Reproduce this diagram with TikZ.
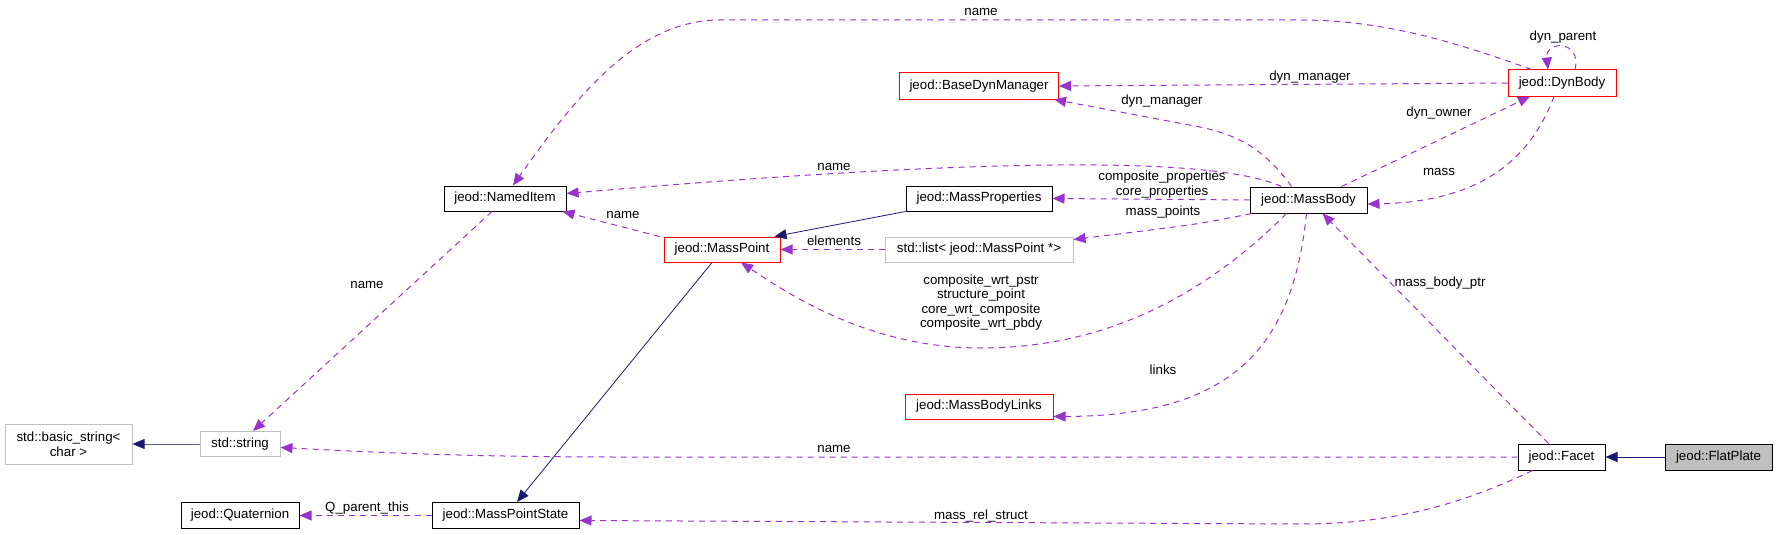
\documentclass[tikz,border=0pt]{standalone}
\usepackage{fontspec}
\setmainfont{Liberation Sans}
\usetikzlibrary{arrows.meta}
\definecolor{relcol}{HTML}{9A32CD}
\definecolor{inhcol}{HTML}{191970}
\definecolor{grey75}{HTML}{BFBFBF}
\begin{document}
\begin{tikzpicture}[x=1pt,y=-1pt,
  cls/.style={draw=black,line width=1pt,minimum height=26pt,inner sep=0pt,font=\fontsize{13.3}{14.6}\selectfont,align=center},
  redcls/.style={cls,draw=red},
  extcls/.style={cls,draw=grey75},
  curcls/.style={cls,fill=grey75},
  lbl/.style={inner sep=0pt,font=\fontsize{13.3}{14.6}\selectfont,align=center},
  use/.style={color=relcol,line width=1pt,dash pattern=on 6pt off 5pt,-{Triangle[length=12pt,width=10pt]}},
  inh/.style={color=inhcol,line width=1pt,-{Triangle[length=12pt,width=10pt]}}]
\useasboundingbox (0,0) rectangle (1777,535);
\node[curcls,minimum width=107pt] (flatplate) at (1718.5,457) {jeod::FlatPlate};
\node[cls,minimum width=87pt] (facet) at (1561.5,457) {jeod::Facet};
\node[cls,minimum width=117pt] (massbody) at (1308.5,200) {jeod::MassBody};
\node[redcls,minimum width=108pt] (dynbody) at (1562,83) {jeod::DynBody};
\node[redcls,minimum width=159pt] (basedyn) at (979,86) {jeod::BaseDynManager};
\node[cls,minimum width=146pt,minimum height=25pt] (massprop) at (979,198.5) {jeod::MassProperties};
\node[redcls,minimum width=116pt,minimum height=25pt] (masspoint) at (722,249.5) {jeod::MassPoint};
\node[extcls,minimum width=188pt,minimum height=25pt] (stdlist) at (979,249.5) {std::list< jeod::MassPoint *>};
\node[redcls,minimum width=148pt,minimum height=25pt] (mblinks) at (979,406.5) {jeod::MassBodyLinks};
\node[cls,minimum width=122pt,minimum height=25pt] (nameditem) at (505,198.5) {jeod::NamedItem};
\node[extcls,minimum width=80pt,minimum height=25pt] (stdstring) at (240,444) {std::string};
\node[extcls,minimum width=127pt,minimum height=40pt] (basicstr) at (68.5,444) {std::basic\_string<\\char >};
\node[cls,minimum width=118pt] (quat) at (240,515.5) {jeod::Quaternion};
\node[cls,minimum width=147pt] (mps) at (505.5,515.5) {jeod::MassPointState};

\draw[inh] (flatplate) -- (facet);
\draw[inh,line width=0.8pt] (massprop.south west) -- ([xshift=-6pt]masspoint.north east);
\draw[inh,line width=0.8pt] ([xshift=-10pt]masspoint.south) -- ([xshift=11.5pt]mps.north);
\draw[color=inhcol!70,line width=1pt,-{Triangle[length=12pt,width=10pt,color=inhcol]}] (stdstring) -- (basicstr);

\draw[use] ([xshift=24pt]dynbody.north west) .. controls (1450,40) and (1380,20) .. (1300,20) -- (720,20) .. controls (640,20) and (580,90) .. ([xshift=8pt]nameditem.north);
\draw[use] (dynbody.west) -- (basedyn.east);
\draw[use] ([xshift=-17pt]massbody.north) .. controls (1262,145) and (1232,134) .. (1200,127) -- ([xshift=-5pt]basedyn.south east);
\draw[use] ([xshift=33pt]massbody.north) -- ([xshift=-32pt]dynbody.south);
\draw[use] ([xshift=-8pt]dynbody.south) .. controls (1530,160) and (1480,202) .. ([yshift=-4pt]massbody.east);
\draw[use] ([xshift=13pt]dynbody.north) .. controls (1582,40) and (1545,40) .. ([xshift=-14pt]dynbody.north);
\draw[use] ([xshift=-27pt]massbody.north) .. controls (1200,150) and (900,165) .. ([yshift=5pt]nameditem.east);
\draw[use] (massbody.west) -- (massprop.east);
\draw[use] ([xshift=2pt]massbody.south west) .. controls (1200,224) .. ([yshift=10pt]stdlist.east);
\draw[use] (stdlist) -- (masspoint);
\draw[use] ([xshift=-4pt]masspoint.north west) -- ([xshift=-4pt]nameditem.south east);
\draw[use] ([xshift=-22pt]massbody.south) .. controls (1200,300) and (1100,348) .. (981,348) .. controls (870,348) and (790,295) .. ([xshift=19pt]masspoint.south);
\draw[use] ([xshift=-2pt]massbody.south) .. controls (1293,345) and (1235,416) .. ([yshift=-10pt]mblinks.east);
\draw[use] ([xshift=-13pt]facet.north) -- ([xshift=14pt]massbody.south);
\draw[use] (facet.west) -- (620,457) .. controls (450,457) and (350,451) .. ([yshift=-3.5pt]stdstring.east);
\draw[use] ([xshift=-29pt]facet.south) .. controls (1450,510) and (1380,524) .. (1300,524) -- ([yshift=-5pt]mps.east);
\draw[use] (mps) -- (quat);
\draw[use] ([xshift=-13pt]nameditem.south) -- ([xshift=13pt]stdstring.north);

\node[lbl] (l1) at (981,12) {name};
\node[lbl] (l2) at (1563,37) {dyn\_parent};
\node[lbl] (l3) at (1310,77) {dyn\_manager};
\node[lbl] (l4) at (1162,101) {dyn\_manager};
\node[lbl] (l5) at (1439,113) {dyn\_owner};
\node[lbl] (l6) at (1439,172) {mass};
\node[lbl] (l7) at (834,167) {name};
\node[lbl] (l8) at (1162,184.5) {composite\_properties\\core\_properties};
\node[lbl] (l9) at (1163,212) {mass\_points};
\node[lbl] (l10) at (834,241) {elements};
\node[lbl] (l11) at (623,215) {name};
\node[lbl] (l12) at (981,302.5) {composite\_wrt\_pstr\\structure\_point\\core\_wrt\_composite\\composite\_wrt\_pbdy};
\node[lbl] (l13) at (1163,370) {links};
\node[lbl] (l14) at (1440,283) {mass\_body\_ptr};
\node[lbl] (l15) at (367,285) {name};
\node[lbl] (l16) at (834,449) {name};
\node[lbl] (l17) at (367,508) {Q\_parent\_this};
\node[lbl] (l18) at (981,516) {mass\_rel\_struct};
\end{tikzpicture}
\end{document}
